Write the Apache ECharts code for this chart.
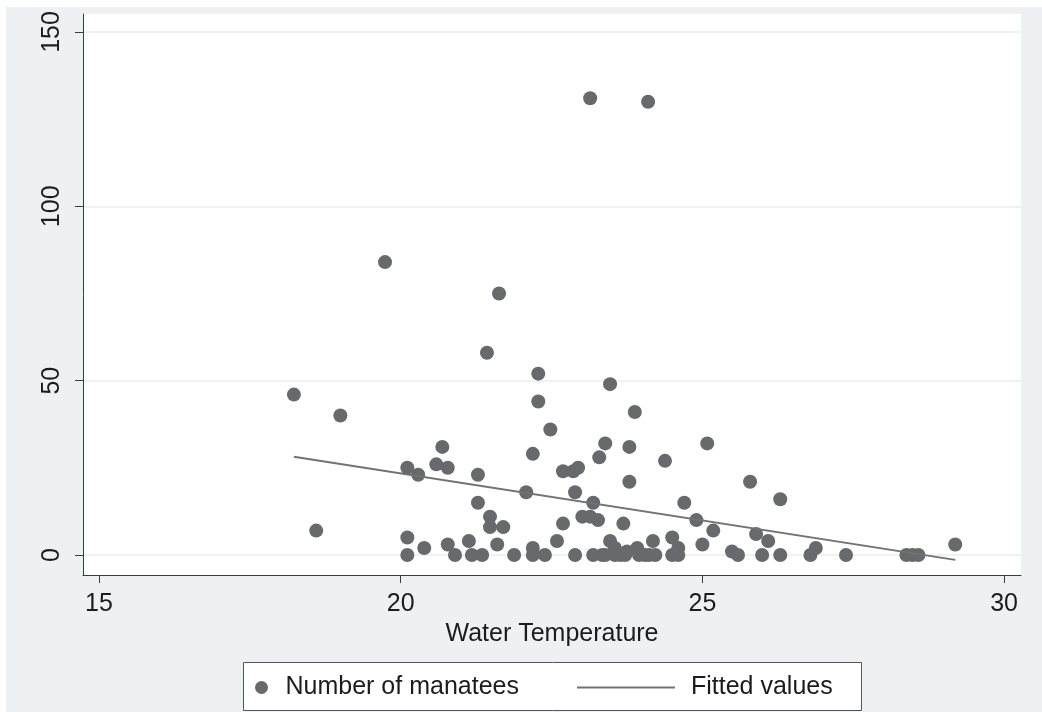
<!DOCTYPE html>
<html lang="en">
<head>
    <meta charset="UTF-8">
    <title>Manatees vs water temperature</title>
    <script type="text/javascript" src="https://cdn.jsdelivr.net/npm/echarts@6/dist/echarts.min.js"></script>
    <style>
        body { margin: 0; background: #fff; }
    </style>
</head>
<body>
<div id="chartmain" style="width:1042px;height:712px"></div>
<script>
    // water temperature / number of manatees
    var temps = [
        18.23, 18.60, 19.00, 19.74,
        20.11, 20.11, 20.11, 20.29, 20.39, 20.59, 20.69, 20.78, 20.78, 20.90,
        21.13, 21.18, 21.35, 21.28, 21.28, 21.43, 21.48, 21.48, 21.60, 21.63, 21.70, 21.88,
        22.08, 22.19, 22.19, 22.19, 22.28, 22.28, 22.39, 22.48, 22.59, 22.69, 22.69, 22.86, 22.89, 22.94, 22.89,
        23.01, 23.14, 23.14, 23.19, 23.27, 23.19, 23.29, 23.39, 23.34, 23.47, 23.47, 23.55, 23.64, 23.69,
        23.75, 23.79, 23.79, 23.92, 23.88, 24.05, 24.10, 24.18, 24.22, 24.38, 24.50, 24.50, 24.60, 24.60,
        24.70, 24.90, 25.00, 25.08, 25.18, 25.49, 25.59, 25.79, 25.89, 25.99, 26.09, 26.29, 26.29,
        26.79, 26.88, 27.38, 28.38, 28.48, 28.58, 29.19,
        23.39, 23.55, 23.72, 23.95, 24.12
    ];
    var manatees = [
        46, 7, 40, 84,
        25, 5, 0, 23, 2, 26, 31, 25, 3, 0,
        4, 0, 0, 23, 15, 58, 11, 8, 3, 75, 8, 0,
        18, 29, 2, 0, 52, 44, 0, 36, 4, 9, 24, 24, 18, 25, 0,
        11, 11, 131, 15, 10, 0, 28, 32, 0, 49, 4, 2, 0, 9,
        1, 31, 21, 2, 41, 0, 130, 4, 0, 27, 5, 0, 2, 0,
        15, 10, 3, 32, 7, 1, 0, 21, 6, 0, 4, 16, 0,
        0, 2, 0, 0, 0, 0, 3,
        0, 0, 0, 0, 0
    ];
    // linear fit endpoints
    var fitX = [18.23, 29.19];
    var fitY = [28.2, -1.4];

    var xTicks = [15, 20, 25, 30];
    var yTicks = [0, 50, 100, 150];

    var points = [];
    for (var i = 0; i < temps.length; i++) {
        points.push([temps[i], manatees[i]]);
    }
    var fitLine = [];
    for (var j = 0; j < fitX.length; j++) {
        fitLine.push([fitX[j], fitY[j]]);
    }

    var font = "'Liberation Sans', Arial, Helvetica, sans-serif";
    var txt = '#1c1c1c';
    var fs = 25;

    var option = {
        animation: false,
        textStyle: { fontFamily: font },
        graphic: [
            {
                type: 'rect', z: -10, silent: true,
                shape: { x: 6, y: 7, width: 1036, height: 705 },
                style: { fill: '#eef1f2' }
            },
            {
                type: 'rect', z: -5, silent: true,
                shape: { x: 243.5, y: 662.5, width: 618, height: 48 },
                style: { fill: '#ffffff', stroke: '#555555', lineWidth: 1 }
            }
        ],
        grid: {
            left: 83, right: 21, top: 14, bottom: 137,
            show: true, backgroundColor: '#ffffff', borderWidth: 0
        },
        legend: [
            {
                data: ['Number of manatees'],
                left: 250, top: 670,
                itemWidth: 38, itemHeight: 13,
                textStyle: { fontSize: fs, color: txt, fontFamily: font }
            },
            {
                data: [{ name: 'Fitted values', icon: 'rect' }],
                left: 572, top: 670,
                itemWidth: 98, itemHeight: 2,
                itemStyle: { color: '#727272' },
                textStyle: { fontSize: fs, color: txt, fontFamily: font, padding: [0, 0, 0, 11] }
            }
        ],
        xAxis: {
            type: 'value',
            min: 14.735, max: 30.28,
            name: 'Water Temperature',
            nameLocation: 'middle',
            nameGap: 45,
            nameTextStyle: { fontSize: fs, color: txt, fontFamily: font },
            axisLine: { onZero: false, lineStyle: { color: '#3a3a3a', width: 1 } },
            axisTick: { customValues: xTicks, length: 8, lineStyle: { color: '#3a3a3a' } },
            axisLabel: { customValues: xTicks, fontSize: fs, color: txt, margin: 17 },
            splitLine: { show: false }
        },
        yAxis: {
            type: 'value',
            min: -5.74, max: 155.15,
            axisLine: { show: true, lineStyle: { color: '#3a3a3a', width: 1 } },
            axisTick: { show: true, customValues: yTicks, length: 8, lineStyle: { color: '#3a3a3a' } },
            axisLabel: { customValues: yTicks, fontSize: fs, color: txt, rotate: 90, margin: 18 },
            splitLine: { show: true, lineStyle: { color: '#ececec', width: 1.5 } }
        },
        series: [
            {
                name: 'Number of manatees',
                type: 'scatter',
                data: points,
                symbol: 'circle',
                symbolSize: 14,
                itemStyle: { color: '#67696d', opacity: 1 }
            },
            {
                name: 'Fitted values',
                type: 'line',
                data: fitLine,
                symbol: 'none',
                lineStyle: { color: '#727272', width: 2 },
                itemStyle: { color: '#727272' }
            }
        ]
    };

    var myChart = echarts.init(document.getElementById('chartmain'));
    myChart.setOption(option);
</script>
</body>
</html>
